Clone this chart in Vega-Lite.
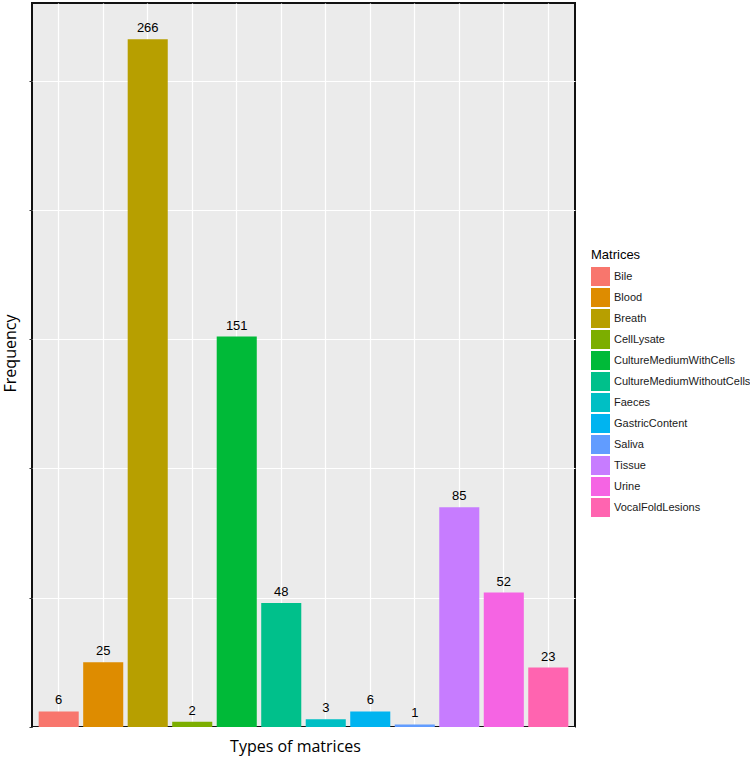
{
  "$schema": "https://vega.github.io/schema/vega-lite/v6.json",
  "autosize": {"type": "none"},
  "padding": {"left": 32, "top": 3, "right": 175, "bottom": 32},
  "width": 543,
  "height": 724,
  "background": "white",
  "config": {
    "view": {"fill": "#EBEBEB", "stroke": "#111111", "strokeWidth": 2},
    "font": "Liberation Sans"
  },
  "data": {
    "values": [
      {"matrix": "Bile", "count": 6},
      {"matrix": "Blood", "count": 25},
      {"matrix": "Breath", "count": 266},
      {"matrix": "CellLysate", "count": 2},
      {"matrix": "CultureMediumWithCells", "count": 151},
      {"matrix": "CultureMediumWithoutCells", "count": 48},
      {"matrix": "Faeces", "count": 3},
      {"matrix": "GastricContent", "count": 6},
      {"matrix": "Saliva", "count": 1},
      {"matrix": "Tissue", "count": 85},
      {"matrix": "Urine", "count": 52},
      {"matrix": "VocalFoldLesions", "count": 23}
    ]
  },
  "encoding": {
    "x": {
      "field": "matrix", "type": "nominal", "sort": null,
      "scale": {"paddingInner": 0.1, "paddingOuter": 0.15},
      "axis": {
        "title": "Types of matrices", "labels": false, "ticks": false, "domain": false,
        "grid": true, "gridColor": "white", "gridWidth": 1.2,
        "titleFont": "Open Sans", "titleFontSize": 16, "titleFontWeight": "normal", "titleColor": "#000000",
        "titleX": 263, "titleY": 19, "titleBaseline": "middle"
      }
    },
    "y": {
      "field": "count", "type": "quantitative",
      "scale": {"domain": [0, 280], "nice": false, "zero": true},
      "axis": {
        "title": "Frequency", "labels": false, "ticks": true, "tickSize": 3, "tickColor": "#333333",
        "domain": false, "values": [0, 50, 100, 150, 200, 250],
        "grid": true, "gridColor": "white", "gridWidth": 1.2,
        "titleFont": "Open Sans", "titleFontSize": 16, "titleFontWeight": "normal", "titleColor": "#000000",
        "titleX": -22, "titleY": 350, "titleBaseline": "middle", "titleAngle": 270
      }
    }
  },
  "layer": [
    {
      "mark": {"type": "bar"},
      "encoding": {
        "color": {
          "field": "matrix", "type": "nominal", "sort": null,
          "scale": {
            "domain": ["Bile", "Blood", "Breath", "CellLysate", "CultureMediumWithCells", "CultureMediumWithoutCells", "Faeces", "GastricContent", "Saliva", "Tissue", "Urine", "VocalFoldLesions"],
            "range": ["#F8766D", "#DE8C00", "#B79F00", "#7CAE00", "#00BA38", "#00C08B", "#00BFC4", "#00B4F0", "#619CFF", "#C77CFF", "#F564E3", "#FF64B0"]
          },
          "legend": {
            "title": "Matrices", "orient": "none", "legendX": 559, "legendY": 246,
            "titleFont": "Liberation Sans", "titleFontSize": 13, "titleFontWeight": "normal", "titleColor": "#000000", "titlePadding": 5,
            "labelFont": "Liberation Sans", "labelFontSize": 11, "labelColor": "#1a1a1a", "labelOffset": 4, "labelLimit": 300,
            "symbolType": "square", "symbolSize": 361, "symbolStrokeWidth": 0, "symbolOpacity": 1,
            "rowPadding": 2
          }
        }
      }
    },
    {
      "mark": {"type": "text", "baseline": "bottom", "dy": -4, "fontSize": 13, "font": "Liberation Sans", "color": "#000000"},
      "encoding": {
        "text": {"field": "count", "type": "quantitative"}
      }
    }
  ]
}
